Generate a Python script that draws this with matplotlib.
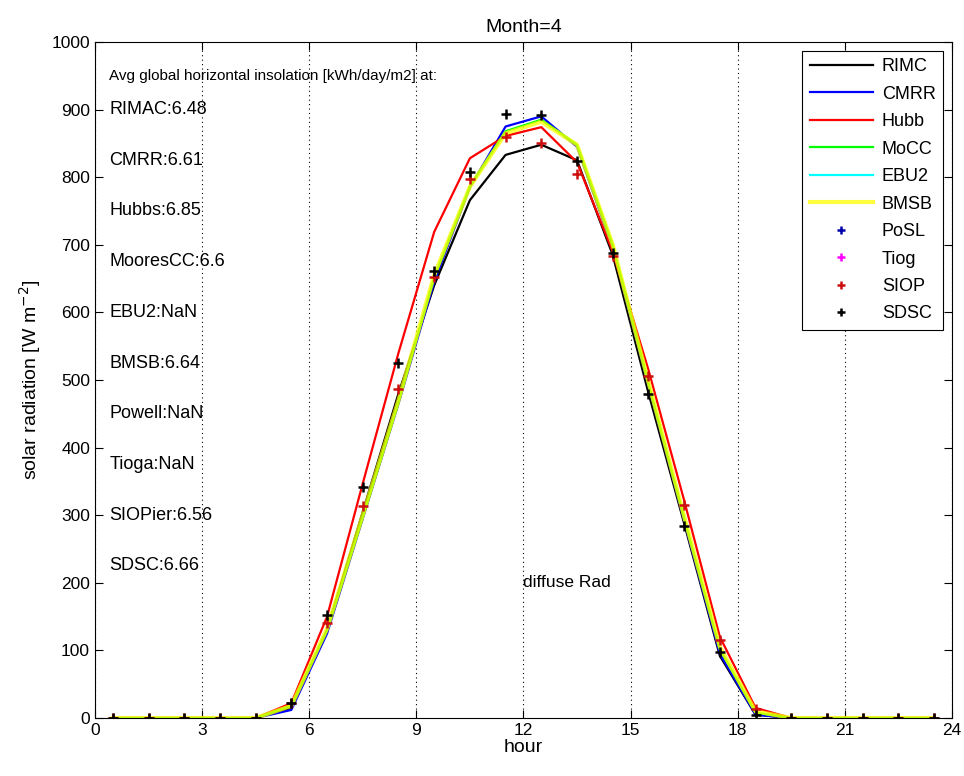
import numpy as np
import matplotlib
matplotlib.use("Agg")
import matplotlib.pyplot as plt

plt.rcParams['font.family'] = ['Liberation Sans', 'DejaVu Sans']

# hourly means, month 4
hours = [0.5, 1.5, 2.5, 3.5, 4.5, 5.5, 6.5, 7.5, 8.5, 9.5, 10.5, 11.5,
         12.5, 13.5, 14.5, 15.5, 16.5, 17.5, 18.5, 19.5, 20.5, 21.5, 22.5, 23.5]

RIMC = [0, 0, 0, 0, 0, 15, 130, 305, 480, 640, 766, 833, 848, 825, 685, 481, 288, 92, 5, 0, 0, 0, 0, 0]
CMRR = [0, 0, 0, 0, 0, 12, 125, 295, 465, 645, 785, 875, 890, 845, 695, 492, 292, 95, 5, 0, 0, 0, 0, 0]
Hubb = [0, 0, 0, 0, 0, 22, 150, 347, 540, 719, 828, 861, 874, 822, 690, 515, 322, 120, 15, 0, 0, 0, 0, 0]
MoCC = [0, 0, 0, 0, 0, 18, 130, 297, 467, 652, 786, 868, 885, 848, 700, 495, 296, 102, 8, 0, 0, 0, 0, 0]
EBU2 = [np.nan] * 24
BMSB = [0, 0, 0, 0, 0, 18, 132, 300, 470, 655, 786, 865, 882, 848, 700, 497, 298, 105, 10, 0, 0, 0, 0, 0]
PoSL = [np.nan] * 24
Tiog = [np.nan] * 24
SIOP = [0, 0, 0, 0, 0, 22, 140, 313, 487, 652, 798, 859, 850, 805, 683, 506, 315, 115, 13, 0, 0, 0, 0, 0]
SDSC = [0, 0, 0, 0, 0, 22, 152, 342, 525, 661, 807, 894, 892, 824, 688, 479, 284, 98, 4, 0, 0, 0, 0, 0]

notes = ["RIMAC:6.48", "CMRR:6.61", "Hubbs:6.85", "MooresCC:6.6", "EBU2:NaN",
         "BMSB:6.64", "Powell:NaN", "Tioga:NaN", "SIOPier:6.56", "SDSC:6.66"]

fig = plt.figure(figsize=(9.64, 7.76), dpi=100)
ax = fig.add_axes([0.0985, 0.0747, 0.889, 0.8712])

ax.plot(hours, RIMC, color="k", lw=1.6, label="RIMC")
ax.plot(hours, CMRR, color="#0000ff", lw=1.6, label="CMRR")
ax.plot(hours, Hubb, color="#ff0000", lw=1.6, label="Hubb")
ax.plot(hours, MoCC, color="#00ff00", lw=1.6, label="MoCC")
ax.plot(hours, EBU2, color="#00ffff", lw=1.6, label="EBU2")
ax.plot(hours, BMSB, color="#ffff00", lw=3.0, alpha=0.75, label="BMSB")
ax.plot(hours, PoSL, "+", color="#0000aa", ms=7, mew=1.8, label="PoSL")
ax.plot(hours, Tiog, "+", color="#ff00ff", ms=7, mew=1.8, label="Tiog")
ax.plot(hours, SIOP, "+", color="#cc1010", ms=7, mew=1.8, label="SIOP")
ax.plot(hours, SDSC, "+", color="k", ms=7, mew=1.8, label="SDSC")

ax.text(0.4, 950, "Avg global horizontal insolation [kWh/day/m2] at:", fontsize=11, va="center")
for i, s in enumerate(notes):
    ax.text(0.4, 900 - 75 * i, s, fontsize=13, va="center")
ax.text(12, 200, "diffuse Rad", fontsize=12.5, va="center")

ax.set_xlim(0, 24)
ax.set_ylim(0, 1000)
ax.set_xticks(range(0, 25, 3))
ax.set_yticks(range(0, 1001, 100))
ax.xaxis.grid(True, linestyle=(0, (1, 3)), color="k", lw=0.8)
ax.tick_params(direction="in", length=6, top=True, right=True, labelsize=12.5)
ax.set_xlabel("hour", fontsize=14, labelpad=1)
ax.set_ylabel("solar radiation [W m$^{-2}$]", fontsize=14, labelpad=6)
ax.set_title("Month=4", fontsize=14, pad=7)

leg = ax.legend(loc="upper right", fontsize=13, handlelength=3.5, fancybox=False,
                edgecolor="k", framealpha=1, borderaxespad=0.5, labelspacing=0.58,
                handletextpad=0.5, markerscale=0.8)
leg.get_frame().set_linewidth(0.8)

fig.savefig("out.png", dpi=100)
